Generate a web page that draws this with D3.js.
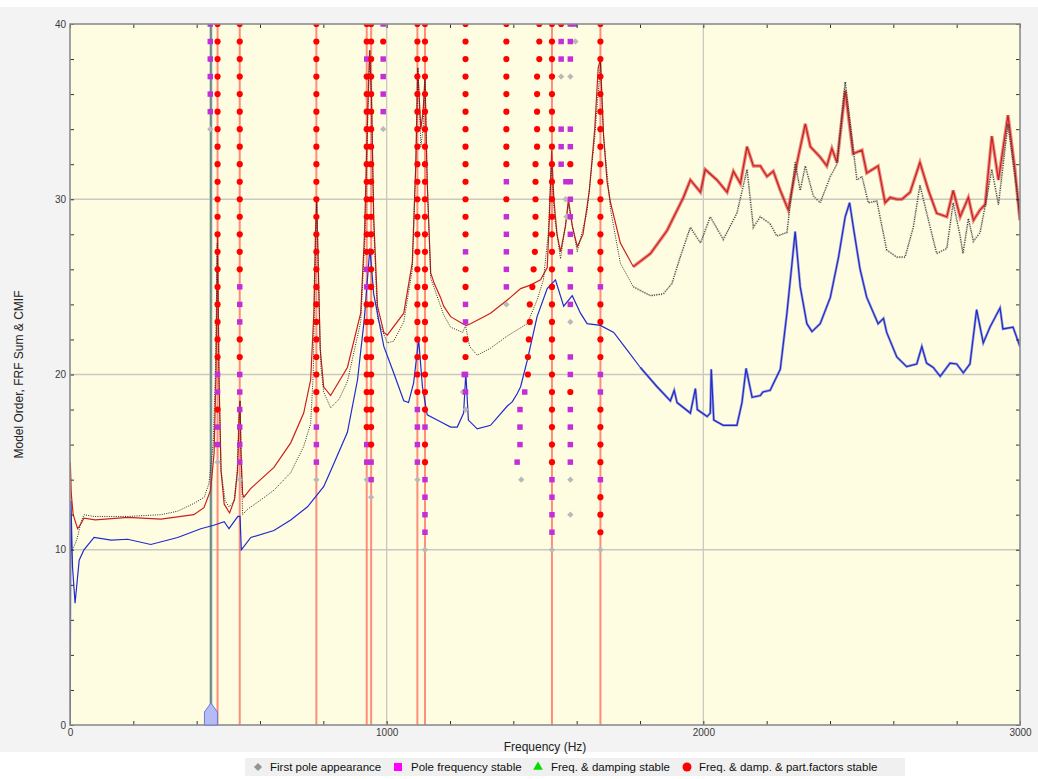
<!DOCTYPE html>
<html><head><meta charset="utf-8">
<script src="https://cdn.jsdelivr.net/npm/d3@7"></script>
<style>
body{margin:0;background:#fff;}
svg{display:block;font-family:"Liberation Sans",Arial,sans-serif;}
</style>
</head><body>
<svg id="chart" width="1038" height="779"></svg>
<script>
// ---------------- data ----------------
const xTickLabels = [0, 1000, 2000, 3000];
const yTickLabels = [0, 10, 20, 30, 40];
const xLabel = "Frequency (Hz)";
const yLabel = "Model Order, FRF Sum & CMIF";

// FRF sum (red)
const frfSum = [[1,15.0],[4,13.2],[10,12.0],[24,11.2],[35,11.5],[44,11.8],[80,11.7],[183,11.85],[287,11.75],[391,12.0],[423,12.4],[444,13.4],[455,15.5],[461,20],[466,28],[471,19.5],[477,14.5],[487,12.6],[504,12.1],[520,12.9],[529,14.5],[534,17.5],[537,18.5],[540,15.5],[545,13.2],[549,13.0],[571,13.5],[644,14.7],[697,16.1],[738,17.8],[760,19.7],[770,23.5],[775,28],[779,30],[783,27],[790,21.5],[801,19.3],[823,18.8],[876,20.4],[918,23.5],[930,28],[940,35],[946,38.5],[952,36],[959,29],[971,23.9],[991,22.4],[1002,22.25],[1054,23.5],[1081,26.4],[1092,32],[1098,37.5],[1108,34],[1115,35],[1121,37],[1128,31],[1139,25.8],[1150,25.2],[1170,24.4],[1180,23.9],[1202,23.3],[1240,22.9],[1252,22.8],[1265,22.9],[1328,23.5],[1381,24.25],[1423,24.9],[1454,25.1],[1486,25.4],[1507,26.1],[1514,29],[1521,32.8],[1528,30],[1538,28],[1549,27.0],[1565,28.5],[1574,30.0],[1586,28.5],[1602,27.3],[1620,28],[1640,30.5],[1657,34],[1668,37.5],[1675,38],[1685,33.6],[1696,31],[1707,29.8],[1738,27.5],[1779,26.15],[1833,26.9],[1885,28.2],[1937,30.1],[1959,31.1],[1991,30.4],[2006,31.7],[2043,31.1],[2075,30.4],[2095,31.6],[2117,30.9],[2138,33.0],[2158,31.9],[2180,31.9],[2201,31.3],[2221,31.6],[2243,30.5],[2268,29.4],[2296,32.1],[2322,34.3],[2338,33.0],[2369,32.4],[2390,31.9],[2406,32.9],[2422,32.1],[2448,36.2],[2473,32.6],[2501,32.8],[2516,31.5],[2552,31.9],[2574,29.8],[2590,30.1],[2611,30.0],[2627,30.0],[2653,30.4],[2684,32.1],[2711,30.5],[2737,29.2],[2769,29.0],[2789,30.5],[2811,29.0],[2837,30.1],[2853,28.8],[2874,29.4],[2890,29.7],[2911,33.6],[2932,31.1],[2962,34.8],[2984,31.7],[3000,28.8]];

// second FRF sum (black dotted)
const frfSumDotted = [[8,10.0],[15,10.3],[22,10.6],[35,11.6],[44,12.0],[76,11.9],[182,11.9],[287,12.0],[340,12.2],[392,12.65],[424,13.0],[439,13.8],[452,16],[459,20],[465,27.5],[470,20],[477,14.5],[490,12.8],[502,12.45],[518,12.75],[528,14.5],[533,17.5],[537,18.5],[541,15],[545,12.0],[560,12.3],[603,12.85],[644,13.4],[697,14.4],[738,15.9],[760,17.2],[768,20],[774,26],[779,30],[784,26],[792,20.5],[801,19.0],[823,18.1],[850,18.6],[876,19.6],[918,23],[932,28],[941,35],[947,38.5],[953,35],[960,28],[971,23.2],[1002,21.8],[1022,21.9],[1054,23.0],[1081,26],[1092,32],[1099,37.5],[1108,33],[1115,34],[1121,37],[1128,31],[1139,25.5],[1180,23.4],[1202,22.7],[1240,22.4],[1249,22.8],[1262,21.6],[1286,21.1],[1328,21.5],[1381,22.2],[1444,22.9],[1475,24.25],[1495,25.4],[1510,28],[1520,32],[1530,29],[1549,26.6],[1574,29.7],[1602,27.0],[1633,29.3],[1657,33.5],[1675,37.8],[1685,33.6],[1707,29.4],[1738,26.35],[1779,25.0],[1833,24.5],[1874,24.6],[1901,25.2],[1927,26.7],[1959,28.4],[1991,27.5],[2022,29.0],[2063,27.7],[2106,29.2],[2138,31.7],[2158,28.4],[2180,29.0],[2211,28.6],[2232,27.9],[2264,28.1],[2290,32.1],[2306,30.5],[2322,31.9],[2347,30.2],[2369,29.8],[2401,31.3],[2422,32.0],[2448,36.7],[2485,31.1],[2501,31.3],[2521,29.8],[2548,29.9],[2579,27.1],[2611,26.7],[2637,26.7],[2663,28.4],[2684,30.8],[2711,28.8],[2737,26.9],[2769,27.2],[2789,29.8],[2811,27.9],[2820,26.9],[2837,28.9],[2853,27.6],[2874,28.1],[2895,30.1],[2911,31.7],[2932,29.7],[2962,34.3],[2990,30.5],[3000,28.8]];

// CMIF (blue)
const cmif = [[0.5,0.2],[3,12.8],[8,9],[16,6.95],[29,9.4],[44,10.0],[76,10.7],[130,10.55],[182,10.6],[255,10.3],[340,10.7],[413,11.2],[454,11.4],[487,11.6],[502,11.2],[530,11.9],[537,11.9],[541,10.0],[571,10.7],[644,11.1],[697,11.7],[750,12.45],[801,13.6],[823,14.5],[876,16.7],[908,19.7],[929,23.1],[947,27.2],[959,24.6],[991,21.6],[1022,20.1],[1054,18.5],[1069,18.4],[1085,19.5],[1101,22.0],[1113,19.3],[1128,17.7],[1170,17.3],[1202,17.0],[1223,17.0],[1243,17.8],[1250,20.1],[1258,17.4],[1286,16.9],[1328,17.1],[1381,18.2],[1397,18.45],[1412,18.9],[1423,19.3],[1444,20.8],[1475,23.3],[1507,24.9],[1533,25.4],[1559,23.9],[1586,24.5],[1612,23.5],[1633,22.9],[1675,22.8],[1717,22.4],[1759,21.4],[1801,20.4],[1854,19.3],[1896,18.5],[1908,19.1],[1917,18.4],[1959,17.8],[1975,19.2],[1981,18.0],[2012,17.6],[2022,17.8],[2025,20.3],[2033,17.4],[2063,17.1],[2106,17.1],[2122,18.4],[2135,20.35],[2154,18.7],[2180,18.8],[2188,19.0],[2211,19.1],[2243,20.3],[2264,23.5],[2280,26.35],[2290,28.15],[2306,25.0],[2327,22.9],[2343,22.45],[2369,22.9],[2401,24.4],[2427,26.7],[2448,29.0],[2462,29.8],[2475,28.25],[2495,26.0],[2516,24.4],[2552,22.9],[2569,23.2],[2579,22.4],[2611,21.0],[2642,20.45],[2674,20.6],[2690,21.6],[2705,20.65],[2726,20.4],[2748,19.9],[2779,20.65],[2800,20.6],[2821,20.1],[2842,20.6],[2863,23.7],[2884,21.8],[2905,22.7],[2937,23.8],[2946,22.6],[2978,22.7],[3000,21.6]];

// stabilization diagram: vertical lines of selected (stable) poles
const stableLineFreqs = [466, 536, 778, 937, 951, 1097, 1121, 1522, 1675];
// pole columns: codes run from model order 40 down to 10
// r = freq & damp & part.factors stable, m = pole frequency stable, g = first appearance, . = none
const poleColumnFreqs = [443, 466, 536, 778, 937, 951, 989, 1097, 1121, 1249, 1378, 1522, 1551, 1580, 1675];
const poleColumnCodes = [
  "m6 g1",
  "r20 m2 r1 m2 g1",
  "r15 m3 r2 m6 g1",
  "r23 m3 g1",
  "r2 m1 r11 m2 r8 m2 g1",
  "r25 m2 g1",
  "m1 r1 m4 g1",
  "r22 m4 g1",
  "r23 m1 r2 m4 g1",
  "r13 m1 r2 m2 r2 m2 g1",
  "r9 m1 r1 m5 g1",
  "r26 m4 g1",
  "r1 m2 g1 .2 m3",
  "m3 g1 .2 m2 r1 m8 g1 .1 m2 r1 m4 g1 .1 g1",
  "r15 m1 r4 m2 r4 m1 r3 g1"
];
// a drifting pole column (orders 40 down to 14)
const driftFreqs = [1482,1482,1482,1475,1475,1475,1475,1475,1470,1470,1470,1470,1470,1468,1464,1460,1452,1452,1449,1446,1446,1436,1421,1421,1421,1412,1425];
const driftCode = "r21 m5 g1";
// scattered single poles [freq, order, type]
const extraPoles = [[1596,39,"g"],[1593,40,"m"],[1568,29,"g"],[1565,30,"g"],[1566,31,"m"],[1241,19,"g"],[1245,20,"m"]];
const cursorFreq = 445;

const legendLabels = ["First pole appearance", "Pole frequency stable", "Freq. & damping stable", "Freq. & damp. & part.factors stable"];
const legendTypes = ["g", "m", "t", "r"];

// ---------------- drawing ----------------
const W = 1038, H = 779;
const L = 70, R = 1020, T = 24, B = 725;
const svg = d3.select("#chart");
const x = d3.scaleLinear().domain([0, 3000]).range([L, R]);
const y = d3.scaleLinear().domain([0, 40]).range([B, T]);

svg.append("rect").attr("x",0).attr("y",7).attr("width",W).attr("height",745).attr("fill","#f3f3f3");
svg.append("rect").attr("x",L).attr("y",T).attr("width",R-L).attr("height",B-T).attr("fill","#fffde1");

svg.append("defs").append("clipPath").attr("id","clip")
  .append("rect").attr("x",L).attr("y",T).attr("width",R-L).attr("height",B-T);
const plot = svg.append("g").attr("clip-path","url(#clip)");

// grid
plot.selectAll(".hg").data([10,20,30]).join("line")
  .attr("x1",L).attr("x2",R).attr("y1",d=>y(d)).attr("y2",d=>y(d))
  .attr("stroke","#c9c9c4").attr("stroke-width",1.3);
plot.selectAll(".vg").data([1000,2000]).join("line")
  .attr("y1",T).attr("y2",B).attr("x1",d=>x(d)).attr("x2",d=>x(d))
  .attr("stroke","#c9c9c4").attr("stroke-width",1.3);

// stable lines
plot.selectAll(".sl").data(stableLineFreqs).join("line")
  .attr("x1",d=>x(d)).attr("x2",d=>x(d)).attr("y1",y(0)).attr("y2",y(40))
  .attr("stroke","#ff7060").attr("stroke-opacity",0.8).attr("stroke-width",2);

// cursor line
plot.append("line").attr("x1",x(cursorFreq)).attr("x2",x(cursorFreq)).attr("y1",B).attr("y2",T)
  .attr("stroke","#a9c2bd").attr("stroke-width",3);
plot.append("line").attr("x1",x(cursorFreq)).attr("x2",x(cursorFreq)).attr("y1",B).attr("y2",T)
  .attr("stroke","#4f6f6c").attr("stroke-width",1.2);

// curves
const line = d3.line().x(d=>x(d[0])).y(d=>y(d[1]));
const hi = arr => arr.filter(d => d[0] >= 1760);
plot.append("path").datum(hi(frfSum)).attr("d",line).attr("fill","none")
  .attr("stroke","#d62a2a").attr("stroke-opacity",0.55).attr("stroke-width",3.4);
plot.append("path").datum(frfSum).attr("d",line).attr("fill","none")
  .attr("stroke","#cc1f1f").attr("stroke-width",1.2);
plot.append("path").datum(hi(frfSumDotted)).attr("d",line).attr("fill","none")
  .attr("stroke","#555").attr("stroke-opacity",0.5).attr("stroke-width",2.2).attr("stroke-dasharray","1 1.5");
plot.append("path").datum(frfSumDotted).attr("d",line).attr("fill","none")
  .attr("stroke","#2a2a2a").attr("stroke-width",1).attr("stroke-dasharray","1 1.3");
plot.append("path").datum(hi(cmif)).attr("d",line).attr("fill","none")
  .attr("stroke","#2a36c8").attr("stroke-opacity",0.45).attr("stroke-width",2.6);
plot.append("path").datum(cmif).attr("d",line).attr("fill","none")
  .attr("stroke","#1f2ad0").attr("stroke-width",1.2);

// poles
function expand(code) {
  const out = [];
  code.split(" ").forEach(tok => { const t = tok[0], n = +tok.slice(1); for (let i=0;i<n;i++) out.push(t); });
  return out;
}
const poles = [];
poleColumnFreqs.forEach((f, i) => {
  expand(poleColumnCodes[i]).forEach((t, k) => { if (t !== ".") poles.push({f, o: 40 - k, t}); });
});
expand(driftCode).forEach((t, k) => { if (t !== ".") poles.push({f: driftFreqs[k], o: 40 - k, t}); });
extraPoles.forEach(d => poles.push({f: d[0], o: d[1], t: d[2]}));

const order = {g:0, m:1, r:2};
poles.sort((a,b) => order[a.t] - order[b.t]);
const symG = d3.symbol().type(d3.symbolSquare).size(20)();
const symM = d3.symbol().type(d3.symbolSquare).size(30)();
const symR = d3.symbol().type(d3.symbolCircle).size(30)();
plot.selectAll(".pole").data(poles).join("path")
  .attr("d", d => d.t === "r" ? symR : d.t === "m" ? symM : symG)
  .attr("transform", d => `translate(${x(d.f)},${y(d.o)})` + (d.t === "g" ? " rotate(45)" : ""))
  .attr("fill", d => d.t === "r" ? "#ff0000" : d.t === "m" ? "#c22ed8" : "#b9b9b9");

// axes
const axG = svg.append("g").attr("font-size", 12);
const fmtX = d => (d % 1000 === 0 ? d : "");
const fmtY = d => (d % 10 === 0 ? d : "");
const xt = d3.range(0, 3001, 200), yt = d3.range(0, 41, 2);
axG.append("g").attr("transform",`translate(0,${B})`)
  .call(d3.axisBottom(x).tickValues(xt).tickFormat(fmtX).tickSizeInner(-4).tickSizeOuter(0).tickPadding(4));
axG.append("g").attr("transform",`translate(0,${T})`)
  .call(d3.axisTop(x).tickValues(xt).tickFormat("").tickSizeInner(-4).tickSizeOuter(0));
axG.append("g").attr("transform",`translate(${L},0)`)
  .call(d3.axisLeft(y).tickValues(yt).tickFormat(fmtY).tickSizeInner(-4).tickSizeOuter(0).tickPadding(4));
axG.append("g").attr("transform",`translate(${R},0)`)
  .call(d3.axisRight(y).tickValues(yt).tickFormat("").tickSizeInner(-4).tickSizeOuter(0));
axG.selectAll(".domain").remove();
axG.selectAll(".tick line").attr("stroke","#333");
axG.selectAll(".tick text").attr("fill","#3a3a3a").attr("font-family","Liberation Sans, Arial, sans-serif");
svg.append("rect").attr("x",L).attr("y",T).attr("width",R-L).attr("height",B-T)
  .attr("fill","none").attr("stroke","#8c8c8c").attr("stroke-width",1.6);

// cursor marker
const cx = x(cursorFreq);
svg.append("path")
  .attr("d", `M${cx-6.5},${B} L${cx-6.5},${B-13} L${cx},${B-22} L${cx+6.5},${B-13} L${cx+6.5},${B} Z`)
  .attr("fill","#b4bcf4").attr("stroke","#6c78e0").attr("stroke-width",1);

// axis titles
svg.append("text").attr("x",(L+R)/2).attr("y",751).attr("text-anchor","middle")
  .attr("font-size",12).attr("fill","#222").text(xLabel);
svg.append("text").attr("transform",`translate(23,${(T+B)/2}) rotate(-90)`).attr("text-anchor","middle")
  .attr("font-size",12).attr("fill","#222").text(yLabel);

// legend
svg.append("rect").attr("x",245).attr("y",758).attr("width",660).attr("height",18).attr("fill","#f0f0f0");
const legX = [258, 398, 538, 687];
const legTextX = [270, 411, 551, 699];
const ly = 767;
legendTypes.forEach((t, i) => {
  let p, fill;
  if (t === "g") { p = d3.symbol().type(d3.symbolSquare).size(34)(); fill = "#949494"; }
  if (t === "m") { p = d3.symbol().type(d3.symbolSquare).size(64)(); fill = "#ff00ff"; }
  if (t === "t") { p = d3.symbol().type(d3.symbolTriangle).size(40)(); fill = "#00dd00"; }
  if (t === "r") { p = d3.symbol().type(d3.symbolCircle).size(64)(); fill = "#ff0000"; }
  svg.append("path").attr("d",p).attr("fill",fill)
    .attr("transform",`translate(${legX[i]},${ly})` + (t === "g" ? " rotate(45)" : ""));
  svg.append("text").attr("x",legTextX[i]).attr("y",ly+4).attr("font-size",11.5).attr("fill","#111")
    .text(legendLabels[i]);
});
</script>
</body></html>
